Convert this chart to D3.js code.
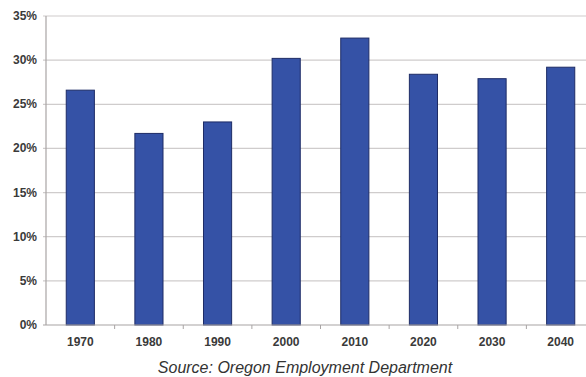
<!DOCTYPE html>
<html lang="en">
<head>
  <meta charset="UTF-8">
  <title>Oregon Employment Share</title>
  <script src="https://d3js.org/d3.v7.min.js"></script>
  <style>
    body { margin: 0; background: #fff; }
    svg { display: block; }
    .tick-label { font-family: "Liberation Sans", Arial, sans-serif; font-size: 12px; font-weight: bold; fill: #3a3a3a; }
    .source { font-family: "Liberation Sans", Arial, sans-serif; font-size: 16px; font-style: italic; fill: #333; }
  </style>
</head>
<body>
  <svg width="586" height="377"></svg>
  <script>
    // data
    const years = ["1970", "1980", "1990", "2000", "2010", "2020", "2030", "2040"];
    const shares = [26.6, 21.7, 23.0, 30.2, 32.5, 28.4, 27.9, 29.2];
    const yTicks = [0, 5, 10, 15, 20, 25, 30, 35];

    const svg = d3.select("svg");
    const plot = { left: 46, right: 595, top: 16, bottom: 325 };

    const x = d3.scaleBand().domain(years).range([plot.left, plot.right]).paddingInner(0.59).paddingOuter(0.295);
    const y = d3.scaleLinear().domain([0, 35]).range([plot.bottom, plot.top]);

    // gridlines
    svg.append("g").selectAll("line")
      .data(yTicks.filter(d => d > 0))
      .join("line")
      .attr("x1", plot.left - 3).attr("x2", 586)
      .attr("y1", d => y(d)).attr("y2", d => y(d))
      .attr("stroke", "#cfcccc").attr("stroke-width", 1.2);

    // bars
    svg.append("g").selectAll("rect")
      .data(years.map((yr, i) => ({ yr, v: shares[i] })))
      .join("rect")
      .attr("x", d => x(d.yr))
      .attr("y", d => y(d.v))
      .attr("width", x.bandwidth())
      .attr("height", d => y(0) - y(d.v))
      .attr("fill", "#3552a6")
      .attr("stroke", "#1e2c66")
      .attr("stroke-width", 1);

    // y axis line
    svg.append("line")
      .attr("x1", plot.left).attr("x2", plot.left).attr("y1", plot.top).attr("y2", plot.bottom)
      .attr("stroke", "#a8a4a4").attr("stroke-width", 1.2);
    svg.append("g").selectAll("text")
      .data(yTicks)
      .join("text")
      .attr("class", "tick-label")
      .attr("x", 37)
      .attr("y", d => y(d) + 4)
      .attr("text-anchor", "end")
      .text(d => d + "%");

    // x axis line + ticks between bars
    svg.append("line")
      .attr("x1", plot.left - 3).attr("x2", 586).attr("y1", plot.bottom).attr("y2", plot.bottom)
      .attr("stroke", "#a8a4a4").attr("stroke-width", 1.2);
    const step = x.step();
    svg.append("g").selectAll("line")
      .data(years)
      .join("line")
      .attr("x1", d => x(d) + x.bandwidth() / 2 + step / 2)
      .attr("x2", d => x(d) + x.bandwidth() / 2 + step / 2)
      .attr("y1", plot.bottom).attr("y2", plot.bottom + 4)
      .attr("stroke", "#a8a4a4");
    svg.append("g").selectAll("text")
      .data(years)
      .join("text")
      .attr("class", "tick-label")
      .attr("x", d => x(d) + x.bandwidth() / 2)
      .attr("y", 346)
      .attr("text-anchor", "middle")
      .text(d => d);

    svg.append("text")
      .attr("class", "source")
      .attr("x", 305)
      .attr("y", 373)
      .attr("text-anchor", "middle")
      .text("Source: Oregon Employment Department");
  </script>
</body>
</html>
